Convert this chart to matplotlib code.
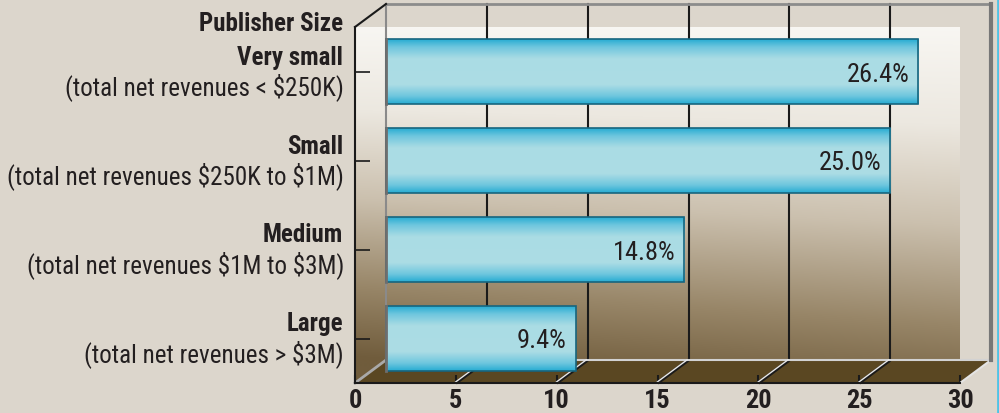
import numpy as np
import matplotlib
matplotlib.use("Agg")
import matplotlib.pyplot as plt
from matplotlib import font_manager
from matplotlib.transforms import ScaledTranslation
from matplotlib.patches import Polygon
from matplotlib.lines import Line2D

# ---------------- data ----------------
categories = ["Very small", "Small", "Medium", "Large"]
descriptions = ["(total net revenues < $250K)",
                "(total net revenues $250K to $1M)",
                "(total net revenues $1M to $3M)",
                "(total net revenues > $3M)"]
values = [26.4, 25.0, 14.8, 9.4]
value_labels = ["26.4%", "25.0%", "14.8%", "9.4%"]
xticks = [0, 5, 10, 15, 20, 25, 30]
axis_title = "Publisher Size"

# ---------------- fonts ----------------
names = {f.name for f in font_manager.fontManager.ttflist}
FONT = "Roboto"
NARROW = False
for cand in ["Roboto Condensed", "Liberation Sans Narrow", "DejaVu Sans Condensed"]:
    if cand in names:
        FONT = cand
        NARROW = True
        break
if FONT not in names:
    FONT = "DejaVu Sans"
plt.rcParams["font.family"] = [FONT, "DejaVu Sans"]
plt.rcParams["text.parse_math"] = False

FS_CAT = 18 if NARROW else 16.5
FS_DESC = 18 if NARROW else 15.5
FS_TICK = 19 if NARROW else 17
FS_VAL = 19 if NARROW else 17.5

TXT = "#231f20"
BG = "#dcd6cc"
FLOOR = "#5a4722"

W, H, DPI = 999, 414, 100
fig = plt.figure(figsize=(W / DPI, H / DPI), dpi=DPI, facecolor=BG)

# front plane (pixels) and depth offset of the back wall
x0, x1 = 355, 960
ytop, ybot = 28, 384
dx, dy = 31, 23
ax = fig.add_axes([x0 / W, (H - ybot) / H, (x1 - x0) / W, (ybot - ytop) / H])
ax.patch.set_visible(False)
n = len(categories)
xmin, xmax = xticks[0], xticks[-1]
ylo, yhi = n - 0.5, -0.5          # bottom, top (inverted)

dxd = dx * (xmax - xmin) / (x1 - x0)
dyd = dy * n / (ybot - ytop)


def back(x, y):
    return (x + dxd, y - dyd)


# ---------------- walls gradient ----------------
ys = np.arange(ytop - dy, ybot + 1)
xs = np.arange(x0, x1 + dx + 1)
t = np.clip((ys - (ytop - dy)) / (ybot - ytop), 0, 1)[:, None]
s = ((xs - (x0 + dx)) / (x1 - x0))[None, :]
u = np.clip(t - 0.12 * s * t, 0, 1)
stops = [0.0, 0.3, 0.55, 0.8, 1.0]
cols = np.array([(251, 250, 247), (236, 232, 224), (203, 192, 174),
                 (152, 134, 104), (112, 92, 60)]) / 255.0
img = np.zeros(u.shape + (3,))
for c in range(3):
    img[..., c] = np.interp(u, stops, cols[:, c])

hexagon = [(xmin, ylo), back(xmin, ylo), back(xmax, ylo), back(xmax, yhi),
           back(xmin, yhi), (xmin, yhi)]
clip_poly = Polygon(hexagon, closed=True, transform=ax.transData)
wall = ax.imshow(img, extent=(xmin, xmax + dxd, ylo, yhi - dyd), origin="upper",
                 aspect="auto", interpolation="bilinear", zorder=0)
wall.set_clip_path(clip_poly)

# floor
floor = Polygon([(xmin, ylo), (xmax, ylo), back(xmax, ylo), back(xmin, ylo)],
                closed=True, facecolor=FLOOR, edgecolor="none", zorder=1,
                clip_on=False)
ax.add_patch(floor)

# back-wall gridlines
for xv in xticks[1:-1]:
    bx, by0 = back(xv, ylo)
    _, by1 = back(xv, yhi)
    ax.plot([bx, bx], [by0, by1], color="#1a1a1a", lw=1.5, zorder=2, clip_on=False)
    # floor diagonals
    fx, fy = xv, ylo
    ax.plot([fx, bx], [fy, by0], color="#1a1a1a", lw=2.4, zorder=2,
            clip_on=False, solid_capstyle="butt")
    ax.plot([fx, bx], [fy, by0], color="#e8e8e8", lw=1.0, zorder=2.1,
            clip_on=False, solid_capstyle="butt",
            transform=ax.transData + ScaledTranslation(-0.8 / DPI, 0.6 / DPI,
                                                       fig.dpi_scale_trans))

# wall edges
def seg(p, q, **kw):
    ax.plot([p[0], q[0]], [p[1], q[1]], clip_on=False, **kw)

seg(back(xmin, ylo), back(xmax, ylo), color="#d2d2d2", lw=1.5, zorder=2)
seg((xmin, ylo), back(xmin, ylo), color="#a9a9a9", lw=2.0, zorder=2)
seg((xmax, ylo), back(xmax, ylo), color="#e4e4e4", lw=1.5, zorder=2)
seg(back(xmin, yhi), back(xmax, yhi), color="#8c8c8c", lw=2.0, zorder=2)
seg(back(xmax, yhi), back(xmax, ylo), color="#777777", lw=3.0, zorder=2)
seg(back(xmin, yhi), back(xmin, ylo), color="#8a8a8a", lw=1.5, zorder=2)
seg((xmin, yhi), back(xmin, yhi), color="#1a1a1a", lw=1.5, zorder=3)

# ---------------- bars ----------------
bar_h = 0.73
bars = ax.barh(range(n), values, left=dxd, height=bar_h, color="none",
               edgecolor="#17657e", linewidth=1.2, zorder=5, clip_on=False)
grad_pos = [0.0, 0.12, 0.3, 0.7, 0.88, 1.0]
grad_col = np.array([(38, 172, 210), (110, 198, 222), (170, 220, 228),
                     (172, 221, 229), (110, 198, 222), (38, 172, 210)]) / 255.0
gy = np.linspace(0, 1, 200)
gimg = np.stack([np.interp(gy, grad_pos, grad_col[:, c]) for c in range(3)],
                axis=-1)[:, None, :]
for i, (b, v) in enumerate(zip(bars, values)):
    l = b.get_x()
    r = l + b.get_width()
    yb = b.get_y()
    im = ax.imshow(gimg, extent=(l, r, yb + bar_h, yb), origin="upper",
                   aspect="auto", interpolation="bilinear", zorder=4)
    im.set_clip_path(b)
    ax.plot([l, l], [yb, yb + bar_h], color="#6e6e6e", lw=2.0, zorder=6,
            clip_on=False)
    ax.text(r, i, value_labels[i], ha="right", va="center", fontsize=FS_VAL,
            fontweight="normal", color=TXT, zorder=7,
            transform=ax.transData + ScaledTranslation(-9 / DPI, -2 / DPI,
                                                       fig.dpi_scale_trans))

# ---------------- axes styling ----------------
ax.set_xlim(xmin, xmax)
ax.set_ylim(ylo, yhi)
for sp in ("top", "right"):
    ax.spines[sp].set_visible(False)
for sp in ("bottom", "left"):
    ax.spines[sp].set_color("#1a1a1a")
    ax.spines[sp].set_linewidth(1.5)
    ax.spines[sp].set_zorder(3)
ax.set_xticks(xticks)
ax.set_xticklabels([str(v) for v in xticks], fontsize=FS_TICK, fontweight="bold",
                   color=TXT)
ax.tick_params(axis="x", direction="in", length=6, width=1.5, colors="#1a1a1a",
               pad=3.5, labelcolor=TXT)
ax.set_yticks(range(n))
ax.set_yticklabels([])
ax.tick_params(axis="y", direction="in", length=11, width=1.2, colors="#1a1a1a")

ytr = ax.get_yaxis_transform()
for i in range(n):
    ax.text(0, i, categories[i], ha="right", va="baseline", fontsize=FS_CAT,
            fontweight="bold", color=TXT,
            transform=ytr + ScaledTranslation(-12 / DPI, 8 / DPI, fig.dpi_scale_trans))
    ax.text(0, i, descriptions[i], ha="right", va="baseline", fontsize=FS_DESC,
            color=TXT,
            transform=ytr + ScaledTranslation(-11 / DPI, -23 / DPI, fig.dpi_scale_trans))
ax.text(0, yhi, axis_title, ha="right", va="baseline", fontsize=FS_CAT,
        fontweight="bold", color=TXT,
        transform=ytr + ScaledTranslation(-12 / DPI, -3 / DPI, fig.dpi_scale_trans))

fig.add_artist(Line2D([0.9985, 0.9985], [0, 1], transform=fig.transFigure,
                      color="#4fc3e6", lw=2))

fig.savefig("out.png", dpi=DPI, facecolor=BG)
